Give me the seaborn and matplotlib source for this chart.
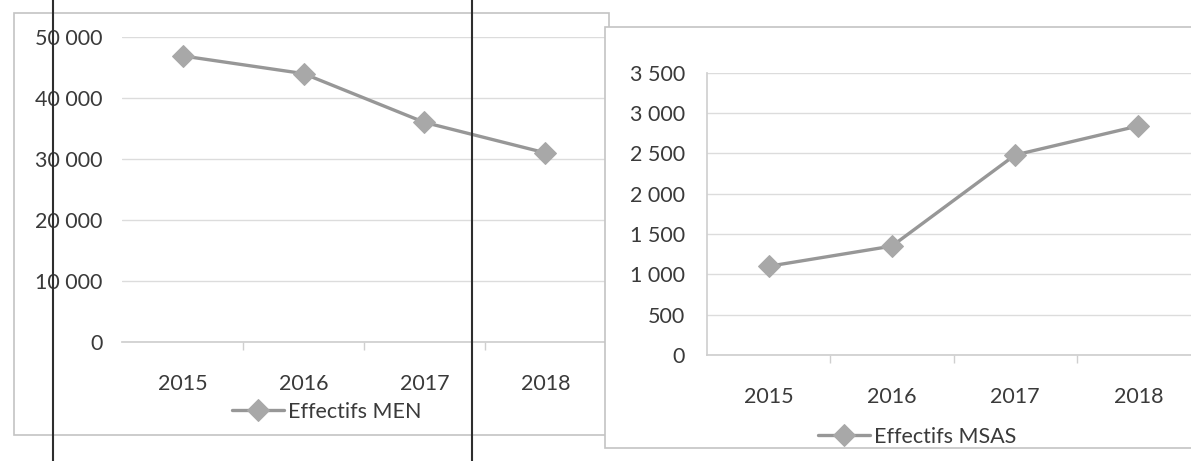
import matplotlib
matplotlib.use("Agg")
import matplotlib.pyplot as plt
import matplotlib.ticker as mticker
from matplotlib.patches import Rectangle
from matplotlib.lines import Line2D
import seaborn as sns
import pandas as pd

# ── DATA ────────────────────────────────────────────────────
years = ["2015", "2016", "2017", "2018"]
effectifs_men = [46900, 44000, 36000, 31000]
effectifs_msas = [1100, 1350, 2480, 2840]
men_ticks = [0, 10000, 20000, 30000, 40000, 50000]
msas_ticks = [0, 500, 1000, 1500, 2000, 2500, 3000, 3500]

sns.set_theme(style="white")
plt.rcParams["font.family"] = ["Lato", "DejaVu Sans"]

W, H = 1191, 461
TXT = "#3a3a3a"
LINE = "#979797"
MARK = "#a8a8a8"
GRID = "#dcdcdc"
FS = 15.5

fig = plt.figure(figsize=(W / 100, H / 100), dpi=100)
fig.patch.set_facecolor("white")


def px(x0, y0, x1, y1):
    # pixel box -> figure fraction [left, bottom, width, height]
    return [x0 / W, 1 - y1 / H, (x1 - x0) / W, (y1 - y0) / H]


# chart area frames (right chart overlaps the left one)
b = px(14, 13, 609, 435)
fig.add_artist(Rectangle((b[0], b[1]), b[2], b[3], transform=fig.transFigure,
                         facecolor="white", edgecolor="#c4c4c4", lw=1.2, zorder=-1))
b = px(605, 27, 1230, 448)
fig.add_artist(Rectangle((b[0], b[1]), b[2], b[3], transform=fig.transFigure,
                         facecolor="white", edgecolor="#c4c4c4", lw=1.2, zorder=0.5))


def draw(ax, values, label, ticks, pad_y, show_spine):
    df = pd.DataFrame({"year": years, "value": values})
    sns.lineplot(data=df, x="year", y="value", ax=ax, sort=False,
                 color=LINE, lw=2.4, marker="D", markersize=11,
                 markerfacecolor=MARK, markeredgecolor=MARK, label=label)
    ax.set_facecolor("none")
    ax.set_xlim(-0.5, 3.5)
    ax.set_ylim(ticks[0], ticks[-1])
    ax.set_yticks(ticks)
    ax.yaxis.set_major_formatter(
        mticker.FuncFormatter(lambda v, _: f"{v:,.0f}".replace(",", " ")))
    ax.set_xlabel("")
    ax.set_ylabel("")
    ax.grid(axis="y", color=GRID, lw=1)
    ax.set_axisbelow(True)
    for s in ["top", "right"]:
        ax.spines[s].set_visible(False)
    ax.spines["left"].set_visible(show_spine)
    ax.spines["left"].set_color("#d0d0d0")
    ax.spines["bottom"].set_color("#cfcfcf")
    ax.xaxis.set_minor_locator(mticker.FixedLocator([0.5, 1.5, 2.5]))
    ax.tick_params(axis="x", which="major", length=0, pad=23,
                   labelsize=FS, labelcolor=TXT)
    ax.tick_params(axis="x", which="minor", bottom=True, length=6,
                   color="#cfcfcf", width=1)
    ax.tick_params(axis="y", length=0, pad=pad_y, labelsize=FS, labelcolor=TXT)


ax1 = fig.add_axes(px(122, 37, 606, 342), zorder=0)
draw(ax1, effectifs_men, "Effectifs MEN", men_ticks, 14, False)

ax2 = fig.add_axes(px(707, 72.7, 1200, 355), zorder=1)
draw(ax2, effectifs_msas, "Effectifs MSAS", msas_ticks, 16, True)

# legends below each chart
for ax, (lx, ly) in [(ax1, (232, 412)), (ax2, (818, 437))]:
    ax.legend(loc="center left", bbox_to_anchor=(lx / W, 1 - ly / H),
              bbox_transform=fig.transFigure, frameon=False, fontsize=FS,
              handlelength=2.4, handletextpad=0.2, borderpad=0,
              borderaxespad=0, labelcolor=TXT)

# dark vertical rules from the scanned page
for x in (53, 472):
    fig.add_artist(Line2D([x / W, x / W], [0, 1], transform=fig.transFigure,
                          color="#2e2e2e", lw=1.5, zorder=5))

plt.savefig("out.png", dpi=100)
